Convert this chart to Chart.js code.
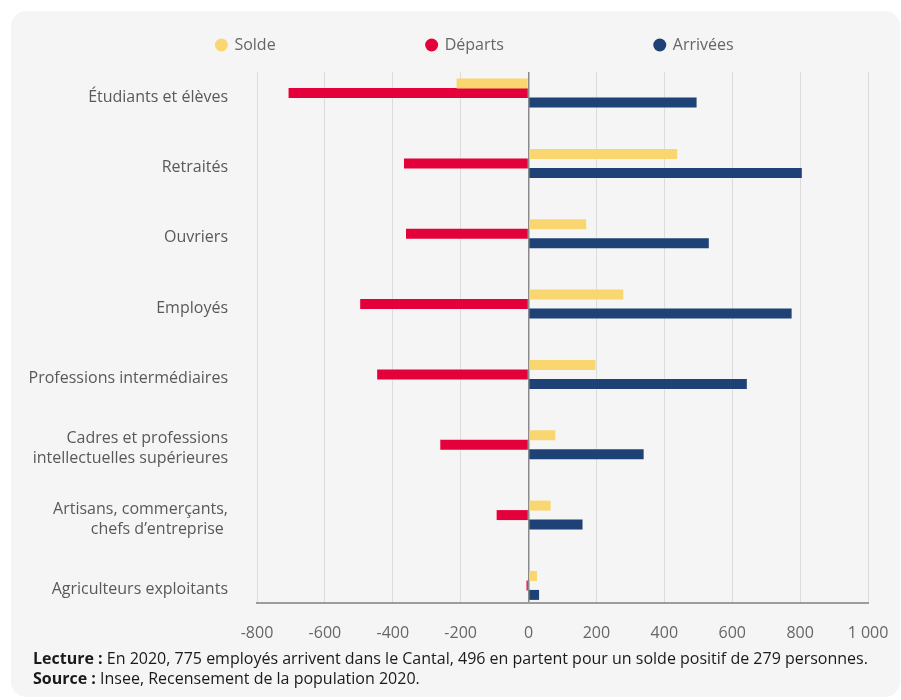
<!DOCTYPE html>
<html lang="fr">
<head>
<meta charset="utf-8">
<script src="https://cdn.jsdelivr.net/npm/chart.js@4/dist/chart.umd.min.js"></script>
<style>
  html, body { margin: 0; padding: 0; background: #ffffff; }
  body { width: 901px; height: 700px; position: relative; overflow: hidden; font-family: "Open Sans", sans-serif; }
  #card { position: absolute; left: 11px; top: 11px; width: 889px; height: 686px; background: #f5f5f5; border-radius: 15px; }
  #wrap { position: absolute; left: 0; top: 0; width: 901px; height: 650px; }
  #note { position: absolute; left: 33px; top: 648px; font-size: 16px; line-height: 20px; color: #1a1a1a; white-space: nowrap; }
  #note b { font-weight: 700; }
</style>
</head>
<body>
<div id="card"></div>
<div id="wrap"><canvas id="c" width="901" height="650"></canvas></div>
<div id="note">
  <div><b>Lecture :</b> En 2020, 775 employés arrivent dans le Cantal, 496 en partent pour un solde positif de 279 personnes.</div>
  <div><b>Source :</b> Insee, Recensement de la population 2020.</div>
</div>
<script>
const categories = [
  'Étudiants et élèves',
  'Retraités',
  'Ouvriers',
  'Employés',
  'Professions intermédiaires',
  ['Cadres et professions', 'intellectuelles supérieures'],
  ['Artisans, commerçants,', 'chefs d’entreprise '],
  'Agriculteurs exploitants'
];
const seriesNames = ['Solde', 'Départs', 'Arrivées'];
const solde    = [-212, 438, 170, 279, 197, 79, 65, 25];
const departs  = [-707, -367, -361, -496, -446, -260, -94, -6];
const arrivees = [495, 805, 531, 775, 643, 339, 159, 31];
const xTicks = [-800, -600, -400, -200, 0, 200, 400, 600, 800, 1000];

const colors = ['#f9d66f', '#e4003a', '#1e4275'];
const FONT = '"Open Sans", sans-serif';

function toPoints(values) {
  return values.map((v, i) => ({ x: v, y: i }));
}
function fmt(v) {
  return String(v).replace(/\B(?=(\d{3})+(?!\d))/g, '\u00a0');
}

const legendPlace = {
  id: 'legendPlace',
  afterLayout(chart) {
    const lg = chart.legend;
    if (!lg) return;
    const P = lg.options.labels.padding;
    lg.top = 37 - P;
    lg.left += 31;
    lg.right += 31;
  }
};

new Chart(document.getElementById('c'), {
  type: 'bar',
  data: {
    datasets: [
      { label: seriesNames[0], data: toPoints(solde), backgroundColor: colors[0] },
      { label: seriesNames[1], data: toPoints(departs), backgroundColor: colors[1] },
      { label: seriesNames[2], data: toPoints(arrivees), backgroundColor: colors[2] }
    ]
  },
  options: {
    indexAxis: 'y',
    responsive: false,
    animation: false,
    categoryPercentage: 0.405,
    barPercentage: 1.05,
    layout: { padding: { left: 20, right: 33, top: 0, bottom: 9 } },
    scales: {
      x: {
        type: 'linear',
        min: -800,
        max: 1000,
        afterBuildTicks(scale) { scale.ticks = xTicks.map(v => ({ value: v })); },
        afterFit(scale) { scale.height = 38; scale.paddingLeft = 0; scale.paddingRight = 0; },
        ticks: {
          padding: 21,
          maxRotation: 0,
          color: '#666666',
          font: { family: FONT, size: 16 },
          callback: (v) => fmt(v)
        },
        grid: {
          drawTicks: false,
          color: (ctx) => (ctx.tick && ctx.tick.value === 0 ? '#8a8a8a' : '#dcdcdc'),
          lineWidth: (ctx) => (ctx.tick && ctx.tick.value === 0 ? 1.5 : 1)
        },
        border: { color: '#9c9c9c', width: 2 }
      },
      y: {
        type: 'linear',
        offset: false,
        reverse: true,
        min: -0.3,
        max: 7.25,
        afterBuildTicks(scale) { scale.ticks = categories.map((c, i) => ({ value: i })); },
        afterFit(scale) { scale.width = 237; scale.paddingTop = 0; scale.paddingBottom = 0; },
        ticks: {
          padding: 29,
          labelOffset: 4,
          color: '#595959',
          autoSkip: false,
          font: { family: FONT, size: 16, lineHeight: 1.25 },
          callback: (v) => categories[v] !== undefined ? categories[v] : ''
        },
        grid: { display: false, drawTicks: false, offset: false },
        border: { display: false }
      }
    },
    plugins: {
      legend: {
        position: 'top',
        maxHeight: 72,
        labels: {
          usePointStyle: true,
          pointStyle: 'circle',
          boxWidth: 10,
          boxHeight: 9.2,
          padding: 151,
          color: '#666666',
          font: { family: FONT, size: 16 }
        }
      },
      tooltip: { enabled: false }
    }
  },
  plugins: [legendPlace]
});
</script>
</body>
</html>
